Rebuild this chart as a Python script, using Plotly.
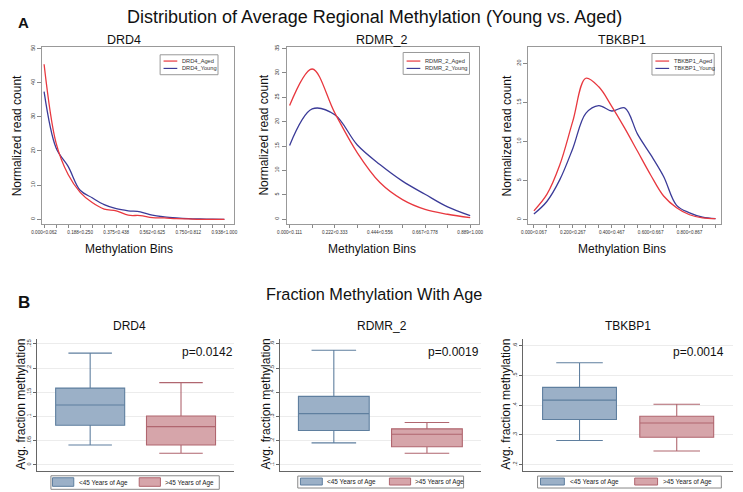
import plotly.graph_objects as go

W, H = 743, 492

# ---------------- data ----------------
drd4_bins = ["0.000<0.062", "0.062<0.125", "0.125<0.188", "0.188<0.250", "0.250<0.312",
             "0.312<0.375", "0.375<0.438", "0.438<0.500", "0.500<0.562", "0.562<0.625",
             "0.625<0.688", "0.688<0.750", "0.750<0.812", "0.812<0.875", "0.875<0.938",
             "0.938<1.000"]
drd4_aged = [45.4, 22.3, 13.1, 7.9, 4.9, 3.0, 2.5, 1.2, 1.1, 0.5, 0.4, 0.2, 0.1, 0.0, 0.0, 0.0]
drd4_young = [37.4, 20.9, 15.5, 8.5, 6.3, 4.3, 3.1, 2.5, 2.2, 1.2, 0.7, 0.4, 0.2, 0.1, 0.05, 0.0]

rdmr_bins = ["0.000<0.111", "0.111<0.222", "0.222<0.333", "0.333<0.444", "0.444<0.556",
             "0.556<0.667", "0.667<0.778", "0.778<0.889", "0.889<1.000"]
rdmr_aged = [23.3, 30.8, 21.8, 13.6, 7.5, 4.0, 2.0, 1.0, 0.3]
rdmr_young = [15.1, 22.6, 21.4, 15.2, 11.2, 7.8, 5.1, 2.5, 0.7]

tbk_bins = ["0.000<0.067", "0.067<0.133", "0.133<0.200", "0.200<0.267", "0.267<0.333",
            "0.333<0.400", "0.400<0.467", "0.467<0.533", "0.533<0.600", "0.600<0.667",
            "0.667<0.733", "0.733<0.800", "0.800<0.867", "0.867<0.933", "0.933<1.000"]
tbk_aged = [1.1, 3.2, 7.0, 12.6, 18.1, 17.0, 14.5, 11.7, 8.7, 5.7, 3.0, 1.5, 0.6, 0.2, 0.1]
tbk_young = [0.7, 2.3, 5.1, 9.1, 13.6, 14.6, 13.9, 14.3, 10.9, 8.3, 5.5, 1.8, 0.85, 0.3, 0.1]

genes = ["DRD4", "RDMR_2", "TBKBP1"]
group_labels = ["<45 Years of Age", ">45 Years of Age"]
p_values = ["p=0.0142", "p=0.0019", "p=0.0014"]

# box stats: [lowerfence, q1, median, q3, upperfence]
young_stats = [[0.041, 0.082, 0.1236, 0.1587, 0.231],
               [0.191, 0.242, 0.312, 0.383, 0.574],
               [0.281, 0.352, 0.417, 0.460, 0.543]]
aged_stats = [[0.024, 0.041, 0.079, 0.101, 0.170],
              [0.148, 0.175, 0.227, 0.249, 0.275],
              [0.246, 0.292, 0.340, 0.363, 0.403]]

b_yticks = [[0, 0.05, 0.1, 0.15, 0.2, 0.25],
            [0.1, 0.2, 0.3, 0.4, 0.5, 0.6],
            [0.2, 0.3, 0.4, 0.5, 0.6]]
b_yticktext = [["0", ".05", ".1", ".15", ".2", ".25"],
               [".1", ".2", ".3", ".4", ".5", ".6"],
               [".2", ".3", ".4", ".5", ".6"]]

# ---------------- styles ----------------
RED = "#e8383f"
BLUE = "#3b3b98"
BOX_BLUE_FILL = "#9bb0c7"
BOX_BLUE_LINE = "#5f7f9f"
BOX_RED_FILL = "#d6a5aa"
BOX_RED_LINE = "#b0666f"
FONT = "Liberation Sans, Arial, sans-serif"


def fx(x):
    return x / W


def fy(y):
    return 1 - y / H


fig = go.Figure()

# ---------------- panel A ----------------
a_series = [(drd4_bins, drd4_aged, drd4_young, 3),
            (rdmr_bins, rdmr_aged, rdmr_young, 2),
            (tbk_bins, tbk_aged, tbk_young, 3)]
a_xdom = [(32.3, 228.3), (282, 478), (528, 725)]
a_xrange = [(-0.2, 15.8), (-0.13, 8.39), (-0.45, 14.45)]
a_yrange = [(-1.4, 50.5), (-1.02, 35.35), (-0.6, 22.13)]
a_ydtick = [10, 5, 5]
a_title_x = [116, 379, 624]
a_ytitle_x = [8, 259, 507.5]
a_legend = [(153, 212, 53, 73), (400.7, 468.3, 50.7, 72.7), (654.3, 717.7, 51.7, 73.3)]

layout = dict(width=W, height=H, margin=dict(l=0, r=0, t=0, b=0),
              paper_bgcolor="white", plot_bgcolor="white", showlegend=False,
              font=dict(family=FONT, color="#111"))
shapes = []
annotations = []

for i, (bins, aged, young, step) in enumerate(a_series):
    k = i + 1
    xs = list(range(len(bins)))
    xa = "x" if k == 1 else f"x{k}"
    ya = "y" if k == 1 else f"y{k}"
    fig.add_trace(go.Scatter(x=xs, y=young, mode="lines", line=dict(color=BLUE, width=1.3, shape="spline", smoothing=1.0),
                             xaxis=xa, yaxis=ya, name=f"{genes[i]}_Young"))
    fig.add_trace(go.Scatter(x=xs, y=aged, mode="lines", line=dict(color=RED, width=1.3, shape="spline", smoothing=1.0),
                             xaxis=xa, yaxis=ya, name=f"{genes[i]}_Aged"))
    ticktext = [b if j % step == 0 else "" for j, b in enumerate(bins)]
    x0, x1 = a_xdom[i]
    layout[f"xaxis{k}"] = dict(domain=[fx(x0), fx(x1)], range=list(a_xrange[i]), anchor=ya,
                               tickvals=xs, ticktext=ticktext, ticks="outside", ticklen=3,
                               tickcolor="#888", tickfont=dict(size=4.6, color="#333"),
                               showline=True, mirror=True, linecolor="#999", linewidth=1,
                               showgrid=False, zeroline=False)
    layout[f"yaxis{k}"] = dict(domain=[fy(223), fy(45)], range=list(a_yrange[i]), anchor=xa,
                               dtick=a_ydtick[i], tick0=0, ticks="outside", ticklen=4,
                               tickcolor="#888", tickfont=dict(size=5.5, color="#333"), tickangle=-90,
                               showline=True, mirror=True, linecolor="#999", linewidth=1,
                               showgrid=False, zeroline=False)
    annotations.append(dict(text=genes[i], x=fx(a_title_x[i]), y=fy(38.5), xref="paper", yref="paper",
                            showarrow=False, font=dict(size=12.5, family=FONT, color="#111"),
                            xanchor="center", yanchor="middle"))
    annotations.append(dict(text="Methylation Bins", x=fx([121, 369, 624][i]), y=fy(248), xref="paper",
                            yref="paper", showarrow=False, font=dict(size=12, family=FONT, color="#111"),
                            xanchor="center", yanchor="middle"))
    annotations.append(dict(text="Normalized read count", x=fx(a_ytitle_x[i]), y=fy(134), xref="paper",
                            yref="paper", showarrow=False, textangle=-90,
                            font=dict(size=12, family=FONT, color="#111"),
                            xanchor="center", yanchor="middle"))
    lx0, lx1, ly0, ly1 = a_legend[i]
    shapes.append(dict(type="rect", xref="paper", yref="paper", x0=fx(lx0), x1=fx(lx1), y0=fy(ly1), y1=fy(ly0),
                       line=dict(color="#999", width=1), fillcolor="white"))
    for j, (nm, col) in enumerate([(f"{genes[i]}_Aged", RED), (f"{genes[i]}_Young", BLUE)]):
        yy = [59.3, 66.7][j]
        shapes.append(dict(type="line", xref="paper", yref="paper", x0=fx(lx0 + 3.5), x1=fx(lx0 + 17.5),
                           y0=fy(yy), y1=fy(yy), line=dict(color=col, width=1.2)))
        annotations.append(dict(text=nm, x=fx(lx0 + 20), y=fy(yy), xref="paper", yref="paper",
                                showarrow=False, xanchor="left", yanchor="middle",
                                font=dict(size=5.7, family=FONT, color="#333")))

# ---------------- panel B ----------------
b_xdom = [(28, 228), (275, 480), (523, 737)]
b_yrange = [(-0.0118, 0.2603), (0.0766, 0.6205), (0.18, 0.623)]
b_title_x = [121.7, 379, 629.7]
b_ytitle_x = [11.5, 261, 506]
b_p_right = [229.3, 480, 730]
b_legend = [(41.7, 213.3, 475.7, 489.3, 43.3, 65, 68.3, 131.7, 153.3, 156),
            (293.3, 462.3, 476, 488, 296, 318.3, 321, 386.7, 408.3, 411),
            (537.7, 725, 476, 488, 540.7, 565, 568.3, 636.7, 660, 663.3)]

for i in range(3):
    k = i + 4
    xa, ya = f"x{k}", f"y{k}"
    for pos, stats, fill, line in [(1, young_stats[i], BOX_BLUE_FILL, BOX_BLUE_LINE),
                                   (2, aged_stats[i], BOX_RED_FILL, BOX_RED_LINE)]:
        lo, q1, med, q3, hi = stats
        fig.add_trace(go.Box(x=[pos], q1=[q1], median=[med], q3=[q3], lowerfence=[lo], upperfence=[hi],
                             width=0.76, whiskerwidth=0.63, fillcolor=fill,
                             line=dict(color=line, width=1.1), boxpoints=False,
                             xaxis=xa, yaxis=ya, hoverinfo="skip"))
    x0, x1 = b_xdom[i]
    layout[f"xaxis{k}"] = dict(domain=[fx(x0), fx(x1)], range=[0.42, 2.58], anchor=ya,
                               showticklabels=False, ticks="", showline=True, linecolor="#666",
                               linewidth=1, showgrid=False, zeroline=False)
    layout[f"yaxis{k}"] = dict(domain=[fy(470.5), fy(338.3)], range=list(b_yrange[i]), anchor=xa,
                               tickvals=b_yticks[i], ticktext=b_yticktext[i], ticks="outside", ticklen=3,
                               tickcolor="#666", tickfont=dict(size=5.5, color="#333"), tickangle=-90,
                               showline=True, linecolor="#666", linewidth=1,
                               showgrid=True, gridcolor="#ececec", gridwidth=1, zeroline=False)
    annotations.append(dict(text=genes[i], x=fx(b_title_x[i]), y=fy(325), xref="paper", yref="paper",
                            showarrow=False, font=dict(size=12, family=FONT, color="#111"),
                            xanchor="center", yanchor="middle"))
    annotations.append(dict(text="Avg. fraction methylation", x=fx(b_ytitle_x[i]), y=fy(404), xref="paper",
                            yref="paper", showarrow=False, textangle=-90,
                            font=dict(size=12, family=FONT, color="#111"),
                            xanchor="center", yanchor="middle"))
    annotations.append(dict(text=p_values[i], x=fx(b_p_right[i]), y=fy(351.5), xref="paper", yref="paper",
                            showarrow=False, xanchor="right", yanchor="middle",
                            font=dict(size=12, family=FONT, color="#111")))
    lx0, lx1, ly0, ly1, s1a, s1b, t1, s2a, s2b, t2 = b_legend[i]
    shapes.append(dict(type="rect", xref="paper", yref="paper", x0=fx(lx0), x1=fx(lx1), y0=fy(ly1), y1=fy(ly0),
                       line=dict(color="#888", width=1), fillcolor="white"))
    for (sa, sb, tx, fill, line, lab) in [(s1a, s1b, t1, BOX_BLUE_FILL, BOX_BLUE_LINE, group_labels[0]),
                                           (s2a, s2b, t2, BOX_RED_FILL, BOX_RED_LINE, group_labels[1])]:
        shapes.append(dict(type="rect", xref="paper", yref="paper", x0=fx(sa), x1=fx(sb),
                           y0=fy(ly1 - 3), y1=fy(ly0 + 2), line=dict(color=line, width=1), fillcolor=fill))
        annotations.append(dict(text=lab, x=fx(tx), y=fy((ly0 + ly1) / 2), xref="paper", yref="paper",
                                showarrow=False, xanchor="left", yanchor="middle",
                                font=dict(size=6.4, family=FONT, color="#222")))

# ---------------- headings ----------------
annotations.append(dict(text="Distribution of Average Regional Methylation (Young vs. Aged)", x=fx(372), y=fy(15),
                        xref="paper", yref="paper", showarrow=False, xanchor="center", yanchor="middle",
                        font=dict(size=18, family=FONT, color="#111")))
annotations.append(dict(text="<b>A</b>", x=fx(14), y=fy(21), xref="paper", yref="paper", showarrow=False,
                        xanchor="center", yanchor="middle", font=dict(size=15, family=FONT, color="#111")))
annotations.append(dict(text="Fraction Methylation With Age", x=fx(371), y=fy(293), xref="paper", yref="paper",
                        showarrow=False, xanchor="center", yanchor="middle",
                        font=dict(size=16.3, family=FONT, color="#111")))
annotations.append(dict(text="<b>B</b>", x=fx(14), y=fy(302), xref="paper", yref="paper", showarrow=False,
                        xanchor="center", yanchor="middle", font=dict(size=17, family=FONT, color="#111")))

layout["shapes"] = shapes
layout["annotations"] = annotations
fig.update_layout(**layout)
fig.write_html("out.html", config={"displayModeBar": False},
               post_script="document.body.style.margin='0px';document.body.style.padding='0px';"
                           "document.body.style.overflow='hidden';")
